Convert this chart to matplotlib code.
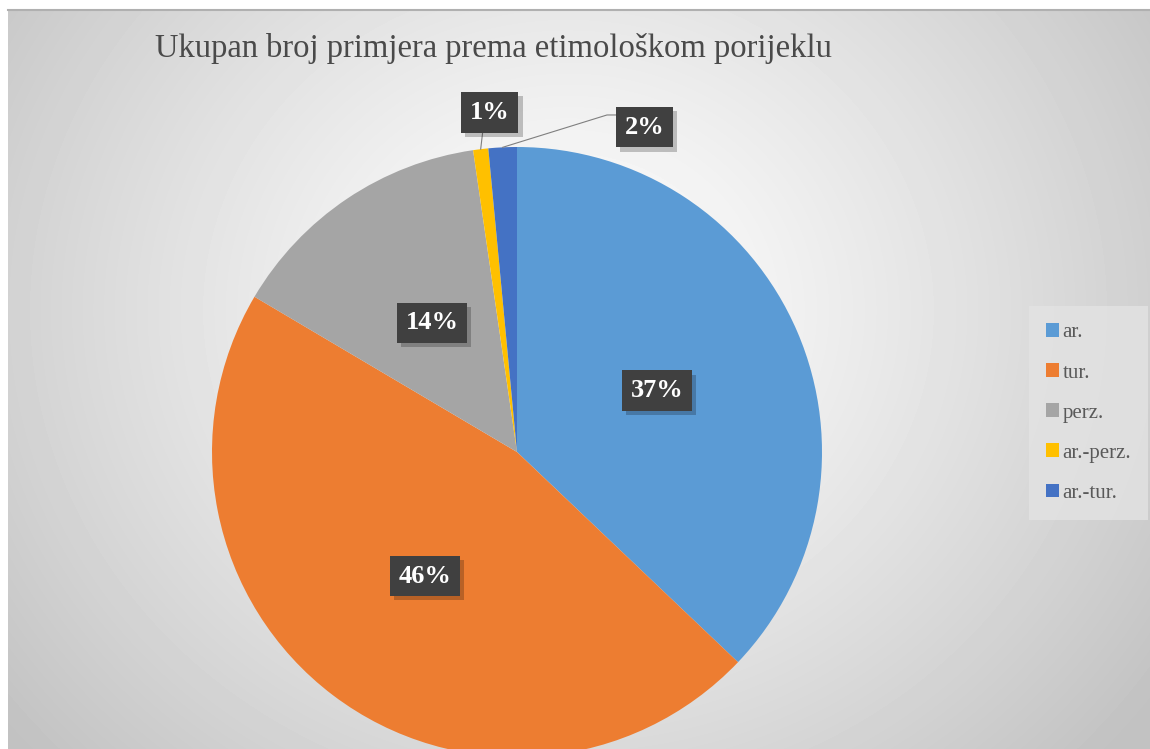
import numpy as np
import matplotlib.pyplot as plt
import matplotlib.patheffects as pe
from matplotlib.patches import Patch

# data
labels = ['ar.', 'tur.', 'perz.', 'ar.-perz.', 'ar.-tur.']
values = [37.1, 46.4, 14.2, 0.8, 1.5]
colors = ['#5B9BD5', '#ED7D31', '#A5A5A5', '#FFC000', '#4472C4']
title = 'Ukupan broj primjera prema etimološkom porijeklu'

W, H = 1150, 749
fig = plt.figure(figsize=(W / 100, H / 100), dpi=100)
fig.patch.set_facecolor('white')

# radial gradient background
bg = fig.add_axes([8 / W, 0, 1 - 8 / W, (H - 10) / H])
yy, xx = np.mgrid[0:H - 10, 0:W - 8]
d = np.hypot(xx - 560, (yy - 300) * 1.1) / 750
shade = np.clip(1.0 - 0.25 * d ** 1.2, 0.76, 1.0)
bg.imshow(shade, cmap='gray', vmin=0, vmax=1, aspect='auto')
bg.axis('off')
fig.add_artist(plt.Line2D([8 / W, 1], [(H - 10) / H] * 2, color='#b0b0b0', lw=1.5))

# pie
cx, cy, r = 517, 452, 305
ax = fig.add_axes([(cx - r) / W, (H - cy - r) / H, 2 * r / W, 2 * r / H])
wedges, _ = ax.pie(values, colors=colors, startangle=90, counterclock=False,
                   radius=1, wedgeprops=dict(linewidth=0))
ax.set_xlim(-1, 1)
ax.set_ylim(-1, 1)
ax.axis('off')
for w in wedges:
    w.set_clip_on(False)

serif = ['Liberation Serif', 'DejaVu Serif']
box = dict(boxstyle='square,pad=0.33', facecolor='#404040', edgecolor='none')


def put_label(x, y, txt):
    t = ax.text(x, y, txt, ha='center', va='center', fontsize=19, fontweight='bold',
                family=serif, color='white', bbox=box, zorder=5)
    t.get_bbox_patch().set_path_effects(
        [pe.SimplePatchShadow(offset=(3, -3), shadow_rgbFace='black', alpha=0.22), pe.Normal()])


total = sum(values)
start = 90
mids = {}
for v, lab in zip(values, labels):
    mids[lab] = np.deg2rad(start - v / total * 360 / 2)
    start -= v / total * 360

for lab in ['ar.', 'tur.', 'perz.']:
    a = mids[lab]
    v = values[labels.index(lab)]
    put_label(0.5 * np.cos(a), 0.51 * np.sin(a), f'{round(v)}%')

# small slices with leader lines
a = mids['ar.-perz.']
ax.plot([np.cos(a), -0.111], [np.sin(a), 1.062], color='#7f7f7f', lw=0.8, clip_on=False)
put_label(-0.089, 1.113, f"{round(values[3])}%")
a = mids['ar.-tur.']
ax.plot([np.cos(a), 0.295, 0.33], [np.sin(a), 1.105, 1.105], color='#7f7f7f', lw=0.8,
        clip_on=False)
put_label(0.418, 1.065, f"{round(values[4])}%")

fig.text(155 / W, 1 - 48 / H, title, fontsize=23.5, family=serif, color='#4a4a4a',
         ha='left', va='center')

handles = [Patch(facecolor=c, edgecolor='none') for c in colors]
leg = fig.legend(handles, labels, loc='center left', bbox_to_anchor=(1029 / W, 1 - 413 / H),
                 prop=dict(family=serif, size=15), frameon=True, fancybox=False,
                 handlelength=0.65, handleheight=0.65, handletextpad=0.15,
                 labelspacing=1.0, borderpad=0.8, borderaxespad=0)
leg.get_frame().set_facecolor('#e3e3e3')
leg.get_frame().set_edgecolor('none')
leg.get_frame().set_alpha(0.8)
for t in leg.get_texts():
    t.set_color('#595959')

fig.savefig('out.png', dpi=100)
